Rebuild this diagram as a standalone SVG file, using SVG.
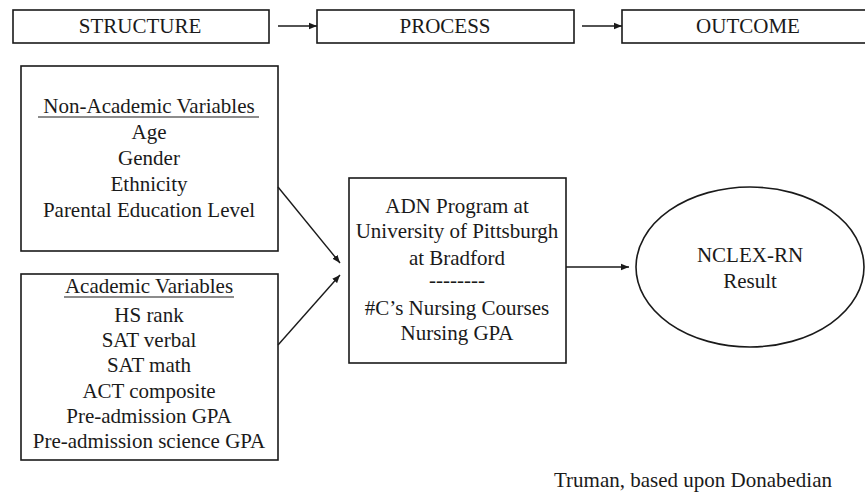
<svg xmlns="http://www.w3.org/2000/svg" width="865" height="493" viewBox="0 0 865 493">
<style>
.box{fill:#fff;stroke:#1a1a1a;stroke-width:1.6}
.t{font-family:"Liberation Serif","Times New Roman",serif;font-size:21px;fill:#1a1a1a;text-anchor:middle}
.c{stroke:#1a1a1a;stroke-width:1.4;fill:none}
.u{stroke:#1a1a1a;stroke-width:1.2}
</style>
<defs>
<marker id="ah" viewBox="0 0 10 10" refX="10" refY="5" markerWidth="8" markerHeight="8" markerUnits="userSpaceOnUse" orient="auto">
<path d="M0,1 L10,5 L0,9 Z" fill="#1a1a1a"/>
</marker>
</defs>
<rect width="865" height="493" fill="#fff"/>
<g id="structure">
<rect class="box" x="13" y="10" width="256" height="33"/>
<text class="t" x="140" y="33">STRUCTURE</text>
</g>
<g id="process">
<rect class="box" x="317" y="10" width="257" height="33"/>
<text class="t" x="445" y="33">PROCESS</text>
</g>
<g id="outcome">
<rect class="box" x="622" y="10" width="250" height="33"/>
<text class="t" x="748" y="33">OUTCOME</text>
</g>
<g id="nonacademic">
<rect class="box" x="21" y="66" width="257" height="185"/>
<text class="t" x="149" y="113">Non-Academic Variables</text>
<line class="u" x1="38" y1="117" x2="259" y2="117"/>
<text class="t" x="149" y="139">Age</text>
<text class="t" x="149" y="165">Gender</text>
<text class="t" x="149" y="191">Ethnicity</text>
<text class="t" x="149" y="217">Parental Education Level</text>
</g>
<g id="academic">
<rect class="box" x="21" y="274" width="257" height="186"/>
<text class="t" x="149" y="293">Academic Variables</text>
<line class="u" x1="64" y1="297" x2="234" y2="297"/>
<text class="t" x="149" y="322">HS rank</text>
<text class="t" x="149" y="347">SAT verbal</text>
<text class="t" x="149" y="372">SAT math</text>
<text class="t" x="149" y="398">ACT composite</text>
<text class="t" x="149" y="423">Pre-admission GPA</text>
<text class="t" x="149" y="448">Pre-admission science GPA</text>
</g>
<g id="program">
<rect class="box" x="349" y="178" width="217" height="185"/>
<text class="t" x="457" y="213">ADN Program at</text>
<text class="t" x="457" y="238">University of Pittsburgh</text>
<text class="t" x="457" y="265">at Bradford</text>
<text class="t" x="457" y="287">--------</text>
<text class="t" x="457" y="315">#C’s Nursing Courses</text>
<text class="t" x="457" y="340">Nursing GPA</text>
</g>
<g id="result">
<ellipse class="box" cx="750" cy="267" rx="114" ry="80"/>
<text class="t" x="750" y="262">NCLEX-RN</text>
<text class="t" x="750" y="288">Result</text>
</g>
<g id="connectors">
<line class="c" x1="278" y1="26" x2="317" y2="26" marker-end="url(#ah)"/>
<line class="c" x1="582" y1="26" x2="622" y2="26" marker-end="url(#ah)"/>
<line class="c" x1="278" y1="187" x2="340" y2="263" marker-end="url(#ah)"/>
<line class="c" x1="278" y1="345" x2="340" y2="275" marker-end="url(#ah)"/>
<line class="c" x1="566" y1="267" x2="629" y2="267" marker-end="url(#ah)"/>
</g>
<text class="t" x="832" y="487" style="text-anchor:end">Truman, based upon Donabedian</text>
</svg>
